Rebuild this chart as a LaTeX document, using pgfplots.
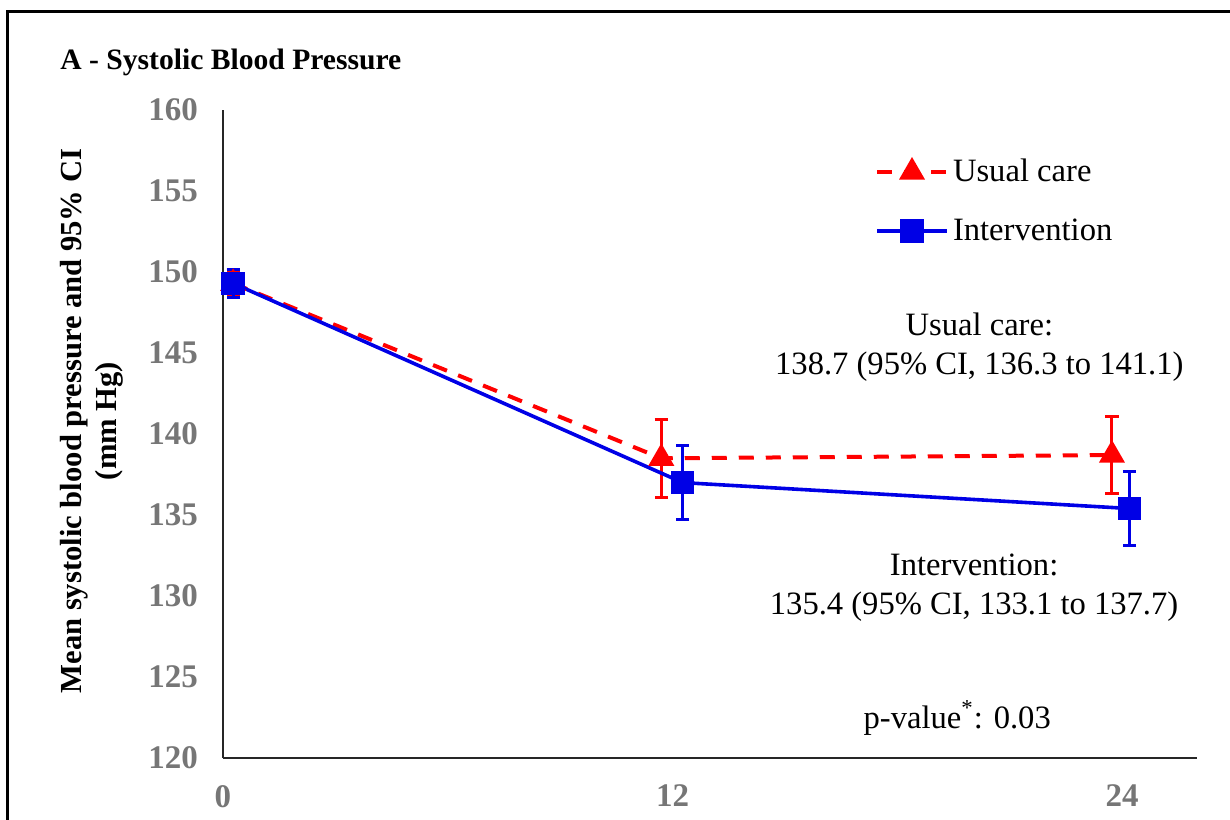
\documentclass[border=0pt]{standalone}
\usepackage{pgfplots}
\pgfplotsset{compat=1.18}
\usepackage{fontspec}
\setmainfont{Liberation Serif}
\definecolor{ucred}{RGB}{255,0,0}
\definecolor{ivblue}{RGB}{0,0,230}
\definecolor{tickgray}{RGB}{118,118,118}
\begin{document}
\begin{tikzpicture}
\useasboundingbox (-111.5pt,-30.5pt) rectangle (503.5pt,379pt);
\draw[line width=1.5pt] (-107.5pt,-31pt) -- (-107.5pt,373pt) -- (504pt,373pt);
\node[anchor=west,inner xsep=0pt,font=\bfseries\fontsize{14.8}{17}\selectfont] at (-81.5pt,348pt) {A - Systolic Blood Pressure};
\begin{axis}[
  at={(0pt,0pt)}, anchor=south west,
  scale only axis, width=487pt, height=324pt,
  xmin=0, xmax=26, ymin=120, ymax=160,
  axis lines=left, axis line style={-, line width=1.2pt, black!85},
  major tick length=0pt,
  xtick={0,12,24}, ytick={120,125,...,160},
  /pgf/number format/assume math mode=true,
  ticklabel style={font=\bfseries\fontsize{16.5}{19}\selectfont, text=tickgray},
  yticklabel style={xshift=-9pt},
  xticklabel style={yshift=-10pt},
  clip=false,
  ylabel={Mean systolic blood pressure and 95\% CI\\(mm Hg)},
  ylabel style={at={(axis description cs:-0.1345,0.52)}, anchor=center, align=center,
    font=\bfseries\fontsize{15.3}{17.5}\selectfont},
  legend style={at={(0.669,0.937)}, anchor=north west, draw=none, fill=none,
    font=\fontsize{16.3}{19}\selectfont, row sep=13pt, inner xsep=0pt},
  legend cell align=left,
  legend image code/.code={\draw[mark repeat=2,mark phase=2,#1] plot coordinates {(0pt,0pt)(17.5pt,0pt)(35pt,0pt)};},
]
\addplot[color=ucred, line width=2pt, dash pattern=on 7.5pt off 6pt,
  mark=triangle*, mark size=5.5pt, mark options={solid},
  error bars/.cd, y dir=both, y explicit,
  error bar style={line width=1.5pt, solid},
  error mark options={rotate=90, mark size=3.3pt, line width=1.5pt, solid}]
  coordinates {
  (0.27,149.3) +- (0,0.8)
  (11.7,138.5) +- (0,2.4)
  (23.73,138.7) +- (0,2.4)
};
\addlegendentry{Usual care}
\addplot[color=ivblue, line width=1.8pt, solid,
  mark=square*, mark size=5pt,
  error bars/.cd, y dir=both, y explicit,
  error bar style={line width=1.5pt},
  error mark options={rotate=90, mark size=3.3pt, line width=1.5pt}]
  coordinates {
  (0.27,149.3) +- (0,0.85)
  (12.27,137.0) +- (0,2.3)
  (24.2,135.4) +- (0,2.3)
};
\addlegendentry{Intervention}
\node[align=center, font=\fontsize{16.3}{19.5}\selectfont] at (axis cs:20.19,145.37)
  {Usual care:\\138.7 (95\% CI, 136.3 to 141.1)};
\node[align=center, font=\fontsize{16.3}{19.5}\selectfont] at (axis cs:20.05,130.5)
  {Intervention:\\135.4 (95\% CI, 133.1 to 137.7)};
\node[font=\fontsize{16.3}{19}\selectfont] at (axis cs:19.6,122.47)
  {p-value\textsuperscript{*}: 0.03};
\end{axis}
\end{tikzpicture}
\end{document}
